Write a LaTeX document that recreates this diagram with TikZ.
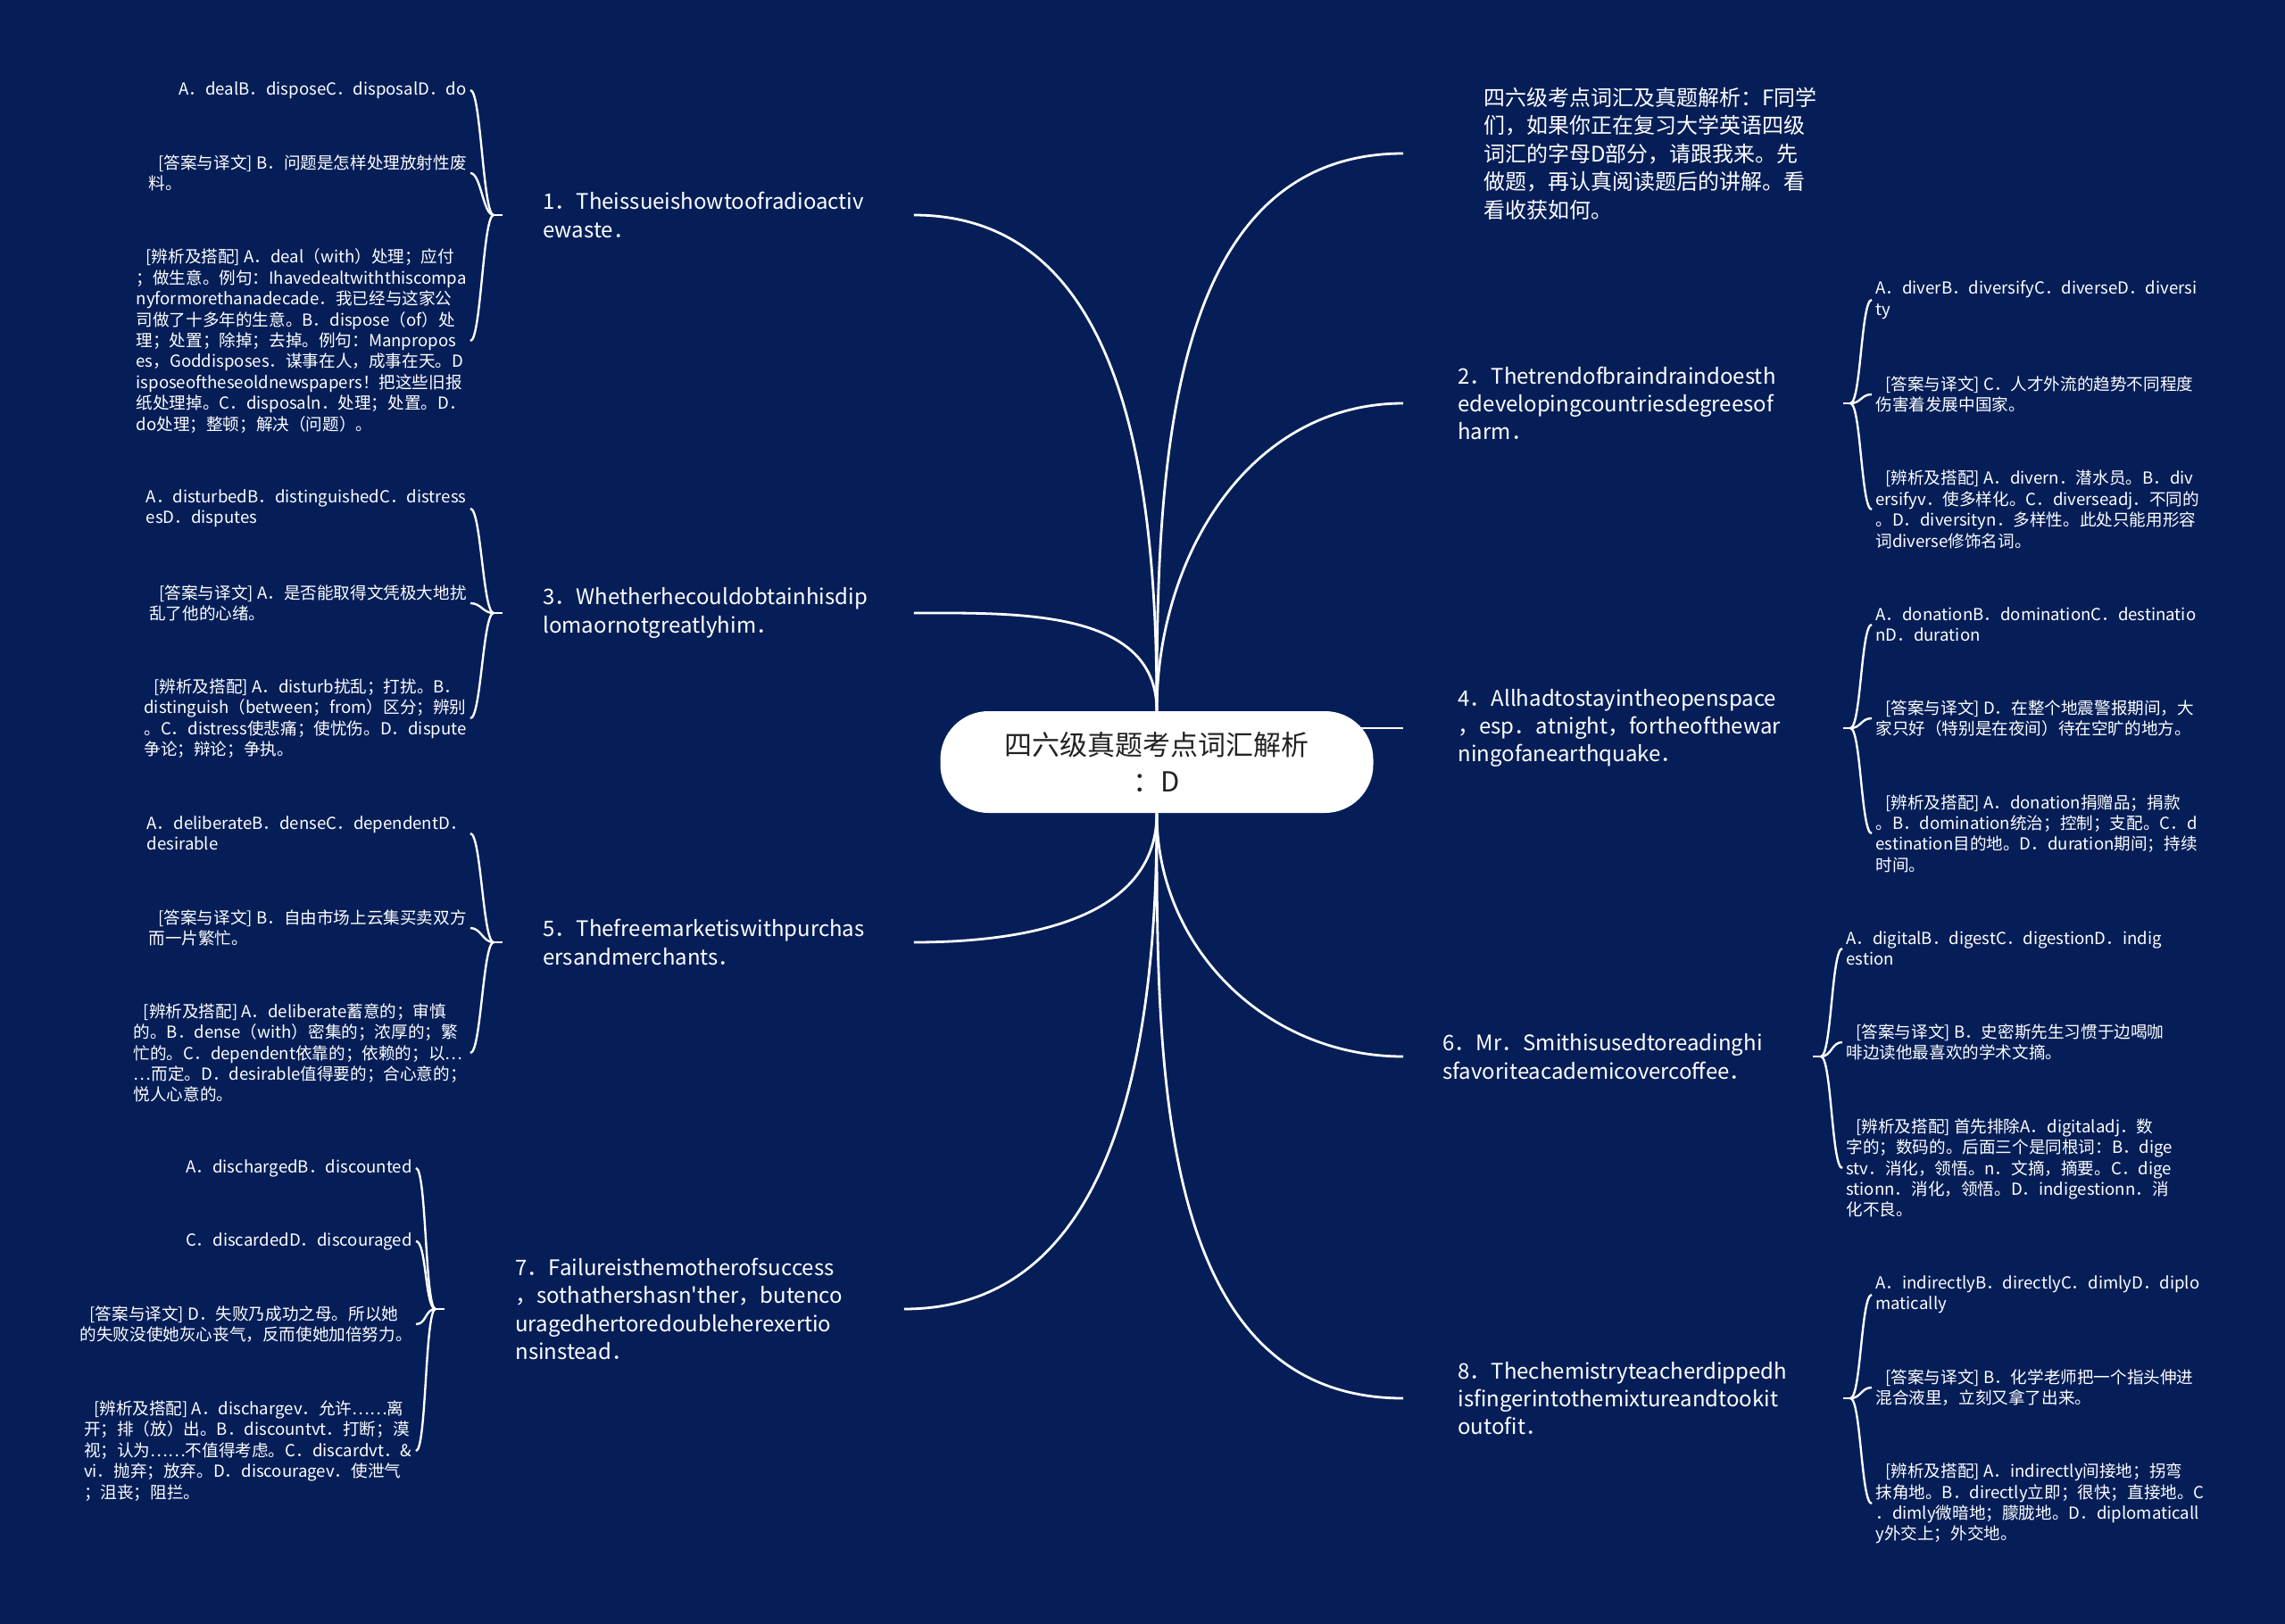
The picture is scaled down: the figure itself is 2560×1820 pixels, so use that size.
\documentclass[tikz,border=0pt]{standalone}
\usepackage{fontspec}
\setmainfont{Noto Sans CJK SC}[Ligatures=TeXOff]
\usepackage{tikz}
\usetikzlibrary{backgrounds}
\usepackage{xcolor}
\definecolor{bgnavy}{RGB}{5,30,88}
\definecolor{rootink}{RGB}{34,34,34}
\hyphenpenalty=10000
\newcommand{\indt}{\hspace*{5.5pt}}
\tikzset{%
	root node/.style={
		fill=white,
		text=rootink,
		rounded corners=27pt,
		minimum width=242.5pt,
		minimum height=57pt,
		align=center,
		font=\fontsize{15.5}{20.5}\selectfont
	},
	question/.style={
		anchor=west,
		text=white,
		text width=185pt,
		align=left,
		inner xsep=22.5pt,
		font=\fontsize{12}{15.7}\selectfont
	},
	leaf/.style={
		text=white,
		inner sep=2pt,
		align=left,
		font=\fontsize{9.3}{11.7}\selectfont
	},
	leaf left/.style={leaf, anchor=east},
	leaf right/.style={leaf, anchor=west},
}

\begin{document}
\begin{tikzpicture}[
	x=0.5pt, y=0.5pt,
	link/.style={draw=white, line width=1.4pt},
	brace/.style={draw=white, line width=1.2pt, out distance=6pt, in distance=6pt}
	]
	\useasboundingbox (0,0) rectangle (2560,-1820);
	
	% Centre
	\node[root node] (root) at (1296,-854) {四六级真题考点词汇解析\\：D};
	
	% Questions
	\node[question, inner xsep=45pt, text width=186pt] (Q0) at (1572,-172) {四六级考点词汇及真题解析：F同学\\们，如果你正在复习大学英语四级\\词汇的字母D部分，请跟我来。先\\做题，再认真阅读题后的讲解。看\\看收获如何。};
	\node[question] (Q1) at (563,-241) {1．Theissueishowtoofradioactiv\\ewaste．};
	\node[question] (Q3) at (563,-687) {3．Whetherhecouldobtainhisdip\\lomaornotgreatlyhim．};
	\node[question] (Q5) at (563,-1056) {5．Thefreemarketiswithpurchas\\ersandmerchants．};
	\node[question, inner xsep=39.5pt, text width=178pt] (Q7) at (498,-1467) {7．Failureisthemotherofsuccess\\，sothathershasn'ther，butenco\\uragedhertoredoubleherexertio\\nsinstead．};
	\node[question, inner xsep=30.5pt] (Q2) at (1572,-452) {2．Thetrendofbraindraindoesth\\edevelopingcountriesdegreesof\\harm．};
	\node[question, inner xsep=30.5pt] (Q4) at (1572,-816) {4．Allhadtostayintheopenspace\\，esp．atnight，fortheofthewar\\ningofanearthquake．};
	\node[question, inner xsep=22pt] (Q6) at (1572,-1184) {6．Mr．Smithisusedtoreadinghi\\sfavoriteacademicovercoffee．};
	\node[question, inner xsep=30.5pt] (Q8) at (1572,-1567) {8．Thechemistryteacherdippedh\\isfingerintothemixtureandtookit\\outofit．};
	
	% Brace tips
	\coordinate (Q1t) at (553,-241);
	\coordinate (Q3t) at (553,-687);
	\coordinate (Q5t) at (553,-1056);
	\coordinate (Q7t) at (488,-1467);
	\coordinate (Q2t) at (2073,-452);
	\coordinate (Q4t) at (2073,-816);
	\coordinate (Q6t) at (2040,-1184);
	\coordinate (Q8t) at (2073,-1567);
	
	% Leaves, left side
	\node[leaf left] (Q1a) at (527,-101) {A．dealB．disposeC．disposalD．do};
	\node[leaf left] (Q1b) at (527,-194) {\indt[答案与译文] B．问题是怎样处理放射性废\\料。};
	\node[leaf left] (Q1c) at (527,-382) {\indt[辨析及搭配] A．deal（with）处理；应付\\；做生意。例句：Ihavedealtwiththiscompa\\nyformorethanadecade．我已经与这家公\\司做了十多年的生意。B．dispose（of）处\\理；处置；除掉；去掉。例句：Manpropos\\es，Goddisposes．谋事在人，成事在天。D\\isposeoftheseoldnewspapers！把这些旧报\\纸处理掉。C．disposaln．处理；处置。D．\\do处理；整顿；解决（问题）。};
	\node[leaf left] (Q3a) at (527,-570) {A．disturbedB．distinguishedC．distress\\esD．disputes};
	\node[leaf left] (Q3b) at (527,-676) {\indt[答案与译文] A．是否能取得文凭极大地扰\\乱了他的心绪。};
	\node[leaf left] (Q3c) at (527,-805) {\indt[辨析及搭配] A．disturb扰乱；打扰。B．\\distinguish（between；from）区分；辨别\\。C．distress使悲痛；使忧伤。D．dispute\\争论；辩论；争执。};
	\node[leaf left] (Q5a) at (527,-934) {A．deliberateB．denseC．dependentD．\\desirable};
	\node[leaf left] (Q5b) at (527,-1040) {\indt[答案与译文] B．自由市场上云集买卖双方\\而一片繁忙。};
	\node[leaf left] (Q5c) at (527,-1180) {\indt[辨析及搭配] A．deliberate蓄意的；审慎\\的。B．dense（with）密集的；浓厚的；繁\\忙的。C．dependent依靠的；依赖的；以…\\…而定。D．desirable值得要的；合心意的；\\悦人心意的。};
	\node[leaf left] (Q7a) at (466,-1309) {A．dischargedB．discounted};
	\node[leaf left] (Q7b) at (466,-1391) {C．discardedD．discouraged};
	\node[leaf left] (Q7c) at (466,-1484) {\indt[答案与译文] D．失败乃成功之母。所以她\\的失败没使她灰心丧气，反而使她加倍努力。};
	\node[leaf left] (Q7d) at (466,-1626) {\indt[辨析及搭配] A．dischargev．允许……离\\开；排（放）出。B．discountvt．打断；漠\\视；认为……不值得考虑。C．discardvt．\&\\vi．抛弃；放弃。D．discouragev．使泄气\\；沮丧；阻拦。};
	
	% Leaves, right side
	\node[leaf right] (Q2a) at (2097,-336) {A．diverB．diversifyC．diverseD．diversi\\ty};
	\node[leaf right] (Q2b) at (2097,-442) {\indt[答案与译文] C．人才外流的趋势不同程度\\伤害着发展中国家。};
	\node[leaf right] (Q2c) at (2097,-571) {\indt[辨析及搭配] A．divern．潜水员。B．div\\ersifyv．使多样化。C．diverseadj．不同的\\。D．diversityn．多样性。此处只能用形容\\词diverse修饰名词。};
	\node[leaf right] (Q4a) at (2097,-700) {A．donationB．dominationC．destinatio\\nD．duration};
	\node[leaf right] (Q4b) at (2097,-805) {\indt[答案与译文] D．在整个地震警报期间，大\\家只好（特别是在夜间）待在空旷的地方。};
	\node[leaf right] (Q4c) at (2097,-934) {\indt[辨析及搭配] A．donation捐赠品；捐款\\。B．domination统治；控制；支配。C．d\\estination目的地。D．duration期间；持续\\时间。};
	\node[leaf right] (Q6a) at (2064,-1063) {A．digitalB．digestC．digestionD．indig\\estion};
	\node[leaf right] (Q6b) at (2064,-1168) {\indt[答案与译文] B．史密斯先生习惯于边喝咖\\啡边读他最喜欢的学术文摘。};
	\node[leaf right] (Q6c) at (2064,-1309) {\indt[辨析及搭配] 首先排除A．digitaladj．数\\字的；数码的。后面三个是同根词：B．dige\\stv．消化，领悟。n．文摘，摘要。C．dige\\stionn．消化，领悟。D．indigestionn．消\\化不良。};
	\node[leaf right] (Q8a) at (2097,-1451) {A．indirectlyB．directlyC．dimlyD．diplo\\matically};
	\node[leaf right] (Q8b) at (2097,-1555) {\indt[答案与译文] B．化学老师把一个指头伸进\\混合液里，立刻又拿了出来。};
	\node[leaf right] (Q8c) at (2097,-1685) {\indt[辨析及搭配] A．indirectly间接地；拐弯\\抹角地。B．directly立即；很快；直接地。C\\．dimly微暗地；朦胧地。D．diplomaticall\\y外交上；外交地。};
	
	% Connectors behind the nodes
	\begin{pgfonlayer}{background}
		\fill[bgnavy] (0,0) rectangle (2560,-1820);
		\draw[link] (root.north) to[out=90,in=0] (Q1.east);
		\draw[link] (root.north) to[out=90,in=0] (Q3.east);
		\draw[link] (root.south) to[out=-90,in=0] (Q5.east);
		\draw[link] (root.south) to[out=-90,in=0] (Q7.east);
		\draw[link] (root.north) to[out=90,in=180] (Q0.west);
		\draw[link] (root.north) to[out=90,in=180] (Q2.west);
		\draw[link] (root.center |- Q4.west) -- (Q4.west);
		\draw[link] (root.south) to[out=-90,in=180] (Q6.west);
		\draw[link] (root.south) to[out=-90,in=180] (Q8.west);
		\foreach \q in {Q1,Q3,Q5}{
			\draw[link] (\q.west) -- (\q t);
			\foreach \l in {a,b,c}
				\draw[brace] (\q t) to[out=180,in=0] (\q\l.east);
		}
		\draw[link] (Q7.west) -- (Q7t);
		\foreach \l in {a,b,c,d}
			\draw[brace] (Q7t) to[out=180,in=0] (Q7\l.east);
		\foreach \q in {Q2,Q4,Q6,Q8}{
			\draw[link] (\q.east) -- (\q t);
			\foreach \l in {a,b,c}
				\draw[brace] (\q t) to[out=0,in=180] (\q\l.west);
		}
	\end{pgfonlayer}
	
\end{tikzpicture}
\end{document}
